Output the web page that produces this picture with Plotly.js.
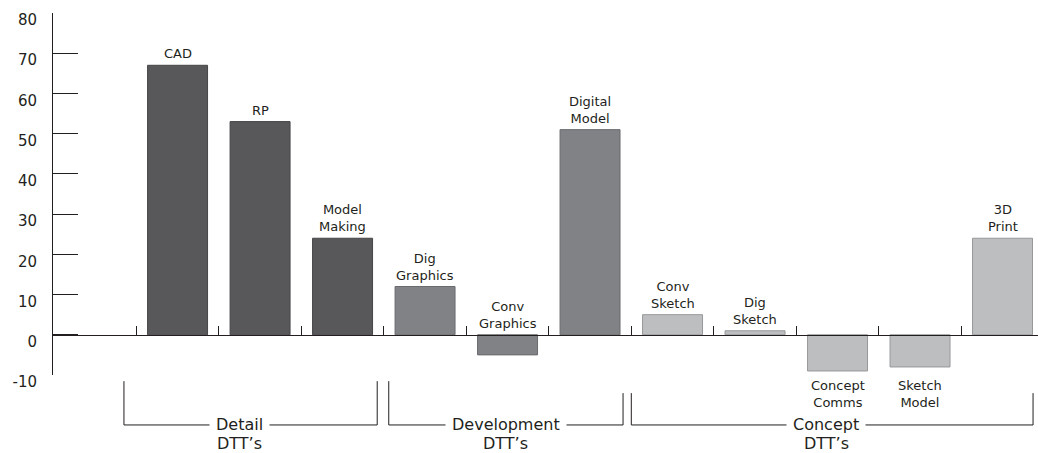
<!DOCTYPE html>
<html>
<head>
<meta charset="utf-8">
<script src="https://cdn.plot.ly/plotly-3.0.1.min.js"></script>
<style>html,body{margin:0;padding:0;background:#fff;}#chart{width:1038px;height:453px;}</style>
</head>
<body>
<div id="chart"></div>
<script>
// ---- data ----
const categories = ["CAD", "RP", "Model Making", "Dig Graphics", "Conv Graphics", "Digital Model",
                    "Conv Sketch", "Dig Sketch", "Concept Comms", "Sketch Model", "3D Print"];
const values = [67, 53, 24, 12, -5, 51, 5, 1, -9, -8, 24];
const groupOf = [0, 0, 0, 1, 1, 1, 2, 2, 2, 2, 2];
const groupNames = ["Detail", "Development", "Concept"];
const groupSuffix = "DTT\u2019s";
const yTicks = [-10, 0, 10, 20, 30, 40, 50, 60, 70, 80];

// ---- styles ----
const INK = "#231f20";
const groupFill = ["#58585a", "#808285", "#bcbec0"];
const groupLine = ["#454547", "#6a6b6e", "#97989a"];
const FONT = "DejaVu Sans";

// group extents (first/last category index)
const groupRanges = groupNames.map((_, g) => {
  const idx = groupOf.map((v, i) => v === g ? i : -1).filter(i => i >= 0);
  return [Math.min(...idx), Math.max(...idx)];
});
// bracket layout constants
const padL = [0.65, 0.44, 0.50];
const padR = [0.42, 0.40, 0.37];
const topL = [-0.017, -0.017, -0.050];
const topR = [-0.017, -0.050, -0.050];
const bracketY = -0.138;
const subY = -0.188;
const labelDx = [-0.13, 0, -0.07];

const trace = {
  type: "bar",
  x: categories,
  y: values,
  width: 0.727,
  marker: {
    color: groupOf.map(g => groupFill[g]),
    line: { color: groupOf.map(g => groupLine[g]), width: 1 }
  },
  hoverinfo: "x+y"
};

const annotations = [];
categories.forEach((c, i) => {
  const v = values[i];
  const txt = c.replace(" ", "<br>");
  if (v <= -6) {
    annotations.push({ xref: "x", yref: "paper", x: i, y: 0, yanchor: "top", yshift: -1,
      text: txt, showarrow: false, font: { family: FONT, size: 13, color: INK } });
  } else {
    annotations.push({ xref: "x", yref: "y", x: i, y: Math.max(v, 0), yanchor: "bottom", yshift: 2,
      text: txt, showarrow: false, font: { family: FONT, size: 13, color: INK } });
  }
});

const shapes = [];
groupNames.forEach((name, g) => {
  const [a, b] = groupRanges[g];
  const x0 = a - padL[g], x1 = b + padR[g];
  const line = { color: INK, width: 1 };
  shapes.push({ type: "line", xref: "x", yref: "paper", x0: x0, x1: x0, y0: topL[g], y1: bracketY, line });
  shapes.push({ type: "line", xref: "x", yref: "paper", x0: x1, x1: x1, y0: topR[g], y1: bracketY, line });
  shapes.push({ type: "line", xref: "x", yref: "paper", x0: x0, x1: x1, y0: bracketY, y1: bracketY, line });
  const cx = (x0 + x1) / 2 + labelDx[g];
  annotations.push({ xref: "x", yref: "paper", x: cx, y: bracketY, yanchor: "middle",
    text: name, showarrow: false, bgcolor: "#ffffff", borderpad: 6,
    font: { family: FONT, size: 16, color: INK } });
  annotations.push({ xref: "x", yref: "paper", x: cx, y: subY, yanchor: "middle",
    text: groupSuffix, showarrow: false,
    font: { family: FONT, size: 16, color: INK } });
});

const layout = {
  width: 1038, height: 453,
  margin: { l: 53, r: 0, t: 13, b: 78 },
  paper_bgcolor: "#ffffff", plot_bgcolor: "#ffffff",
  showlegend: false,
  bargap: 0,
  xaxis: {
    type: "category",
    range: [-1.51, 10.43],
    anchor: "free", position: 10 / 90,
    showline: true, linecolor: INK, linewidth: 1,
    ticks: "inside", tickson: "boundaries", ticklen: 9, tickcolor: INK, tickwidth: 1,
    showticklabels: false, showgrid: false, zeroline: false, fixedrange: true
  },
  yaxis: {
    range: [-10, 80],
    tickvals: yTicks, ticktext: yTicks.map(String),
    showline: true, linecolor: INK, linewidth: 1,
    ticks: "inside", ticklen: 25, tickcolor: INK, tickwidth: 1,
    ticklabelstandoff: 12, ticklabelshift: 7,
    tickfont: { family: FONT, size: 15, color: INK },
    showgrid: false, zeroline: false, fixedrange: true
  },
  shapes, annotations
};

Plotly.newPlot("chart", [trace], layout, { staticPlot: true, displayModeBar: false });
</script>
</body>
</html>
